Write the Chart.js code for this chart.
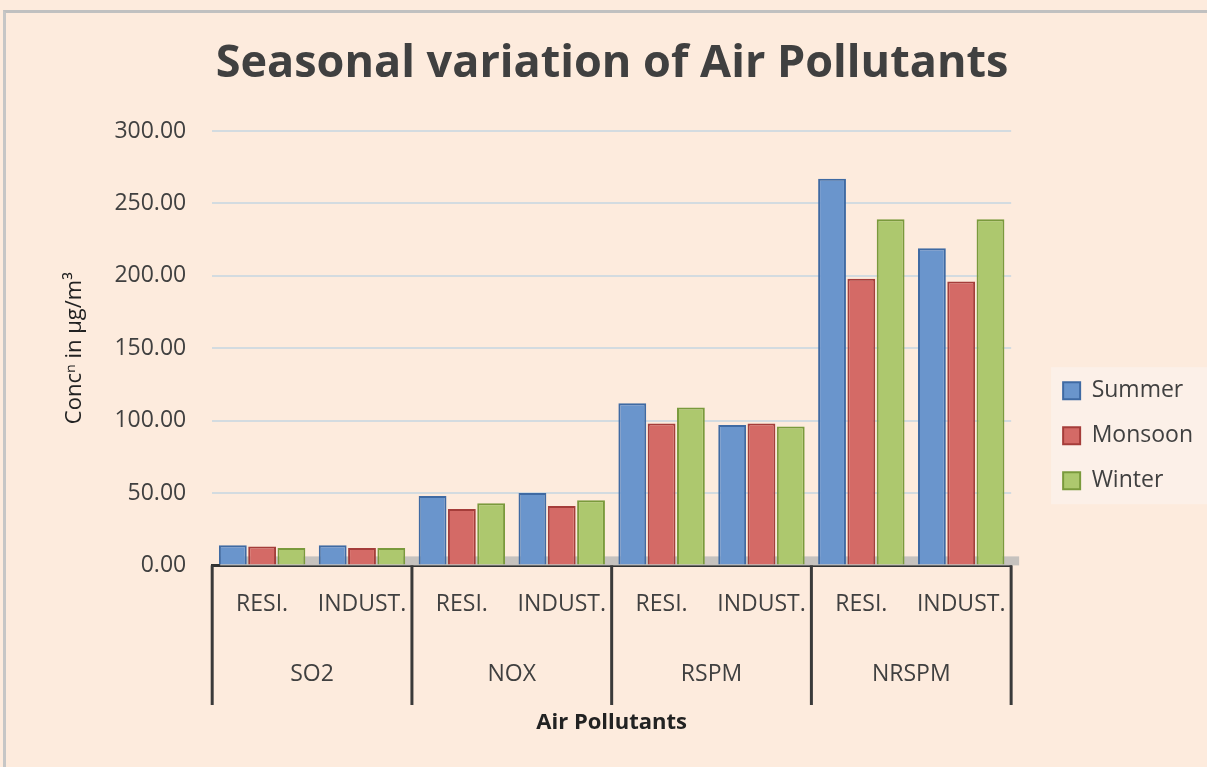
<!DOCTYPE html>
<html lang="en">
<head>
    <meta charset="UTF-8">
    <title>Seasonal variation of Air Pollutants</title>
    <style>
        * {
            margin: 0;
            padding: 0;
            box-sizing: border-box;
        }

        body {
            background-color: #fdebdd;
            width: 1207px;
            height: 767px;
            overflow: hidden;
        }

        .frame {
            position: absolute;
            left: 3px;
            top: 10px;
            width: 1204px;
            height: 757px;
            border-left: 3px solid #c6c6c6;
            border-top: 3px solid #c0c0c0;
        }

        canvas {
            display: block;
        }
    </style>
    <script src="https://cdn.jsdelivr.net/npm/chart.js"></script>
</head>
<body>
    <div class="frame">
        <canvas id="chart" width="1201" height="754"></canvas>
    </div>

    <script>
        // data
        const subLabels = ['RESI.', 'INDUST.', 'RESI.', 'INDUST.', 'RESI.', 'INDUST.', 'RESI.', 'INDUST.'];
        const groupLabels = ['SO2', 'NOX', 'RSPM', 'NRSPM'];
        const summer = [14, 14, 48, 50, 112, 97, 267, 219];
        const monsoon = [13, 12, 39, 41, 98, 98, 198, 196];
        const winter = [12, 12, 43, 45, 109, 96, 239, 239];
        const yTicks = [0, 50, 100, 150, 200, 250, 300];

        const textColor = '#404040';
        const font = '"Open Sans", Lato, sans-serif';

        // dividers of the two-level category axis, grey floor, legend box
        const decorations = {
            id: 'decorations',
            beforeDatasetsDraw(chart) {
                const { ctx, chartArea } = chart;
                ctx.save();
                ctx.fillStyle = '#c6c2be';
                ctx.fillRect(chartArea.left + 8, chartArea.bottom - 9, chartArea.right - chartArea.left, 9);
                ctx.restore();
            },
            beforeDraw(chart) {
                const boxes = chart.legend.legendHitBoxes;
                if (!boxes || !boxes.length) return;
                const ctx = chart.ctx;
                const top = boxes[0].top;
                const last = boxes[boxes.length - 1];
                ctx.save();
                ctx.fillStyle = '#fcf0e8';
                ctx.fillRect(boxes[0].left - 12, top - 12, chart.width - boxes[0].left + 12, last.top + last.height - top + 24);
                ctx.restore();
            },
            afterDraw(chart) {
                const { ctx, chartArea } = chart;
                const x = chart.scales.x;
                const x2 = chart.scales.x2;
                const half = (x.getPixelForValue(1) - x.getPixelForValue(0)) / 2;
                ctx.save();
                ctx.strokeStyle = '#3a3a3a';
                ctx.lineWidth = 3;
                for (let i = 0; i <= groupLabels.length; i++) {
                    const px = x.getPixelForValue(i * 2) - half;
                    ctx.beginPath();
                    ctx.moveTo(px, chartArea.bottom);
                    ctx.lineTo(px, x2.top + 62);
                    ctx.stroke();
                }
                ctx.restore();
            }
        };

        const ctx = document.getElementById('chart');
        new Chart(ctx, {
            type: 'bar',
            data: {
                labels: subLabels,
                datasets: [
                    {
                        label: 'Summer',
                        data: summer,
                        backgroundColor: '#6a95cc',
                        borderColor: '#3f6aa3',
                        borderWidth: 2
                    },
                    {
                        label: 'Monsoon',
                        data: monsoon,
                        backgroundColor: '#d46a66',
                        borderColor: '#a53d3a',
                        borderWidth: 2
                    },
                    {
                        label: 'Winter',
                        data: winter,
                        backgroundColor: '#adc86e',
                        borderColor: '#7a9a3c',
                        borderWidth: 2
                    }
                ]
            },
            options: {
                responsive: false,
                animation: false,
                layout: {
                    padding: { left: 15, right: 4, top: 0, bottom: 31 }
                },
                datasets: {
                    bar: {
                        categoryPercentage: 0.88,
                        barPercentage: 0.95
                    }
                },
                plugins: {
                    title: {
                        display: true,
                        text: 'Seasonal variation of Air Pollutants',
                        color: textColor,
                        font: { family: font, size: 45, weight: 'bold' },
                        padding: { top: 24, bottom: 40 }
                    },
                    legend: {
                        position: 'right',
                        title: {
                            display: true,
                            text: '',
                            font: { size: 12 },
                            padding: { top: 108, bottom: 0 }
                        },
                        labels: {
                            color: textColor,
                            font: { family: font, size: 23 },
                            boxWidth: 17,
                            boxHeight: 17,
                            padding: 22
                        }
                    },
                    tooltip: { enabled: false }
                },
                scales: {
                    y: {
                        min: 0,
                        max: 300,
                        afterBuildTicks(scale) {
                            scale.ticks = yTicks.map(v => ({ value: v }));
                        },
                        ticks: {
                            color: textColor,
                            font: { family: font, size: 23 },
                            padding: 26,
                            callback: v => v.toFixed(2)
                        },
                        grid: {
                            color: '#d3dbe0',
                            lineWidth: 2,
                            drawTicks: false
                        },
                        border: { display: false },
                        title: {
                            display: true,
                            text: 'Concⁿ in µg/m³',
                            color: '#222',
                            font: { family: font, size: 22 },
                            padding: { top: 41, bottom: 0 }
                        }
                    },
                    // spacer between plot area and legend
                    gap: {
                        type: 'linear',
                        position: 'right',
                        display: true,
                        ticks: { display: false },
                        grid: { display: false, drawTicks: false },
                        border: { display: false },
                        afterFit(scale) {
                            scale.width = 30;
                        }
                    },
                    x: {
                        ticks: {
                            color: textColor,
                            font: { family: font, size: 23 },
                            padding: 25
                        },
                        grid: { display: false, drawTicks: false },
                        border: { color: '#333', width: 3 }
                    },
                    x2: {
                        type: 'category',
                        labels: groupLabels,
                        position: 'bottom',
                        offset: true,
                        ticks: {
                            color: textColor,
                            font: { family: font, size: 23 },
                            padding: 18
                        },
                        grid: { display: false, drawTicks: false },
                        border: { display: false },
                        title: {
                            display: true,
                            text: 'Air Pollutants',
                            color: '#222',
                            font: { family: font, size: 22, weight: 'bold' },
                            padding: { top: 3, bottom: 0 }
                        }
                    }
                }
            },
            plugins: [decorations]
        });
    </script>
</body>
</html>
